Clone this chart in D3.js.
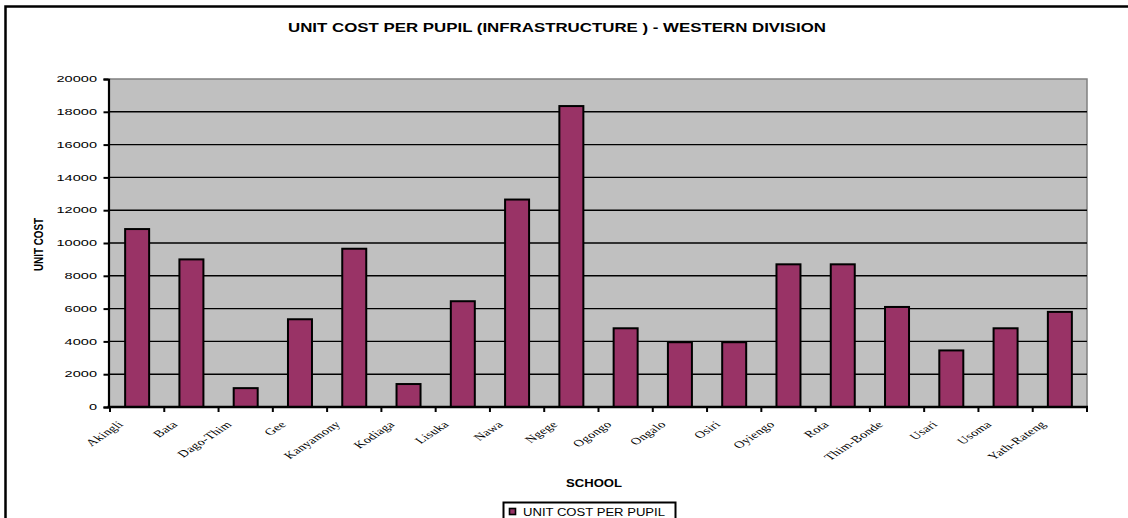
<!DOCTYPE html>
<html>
<head>
<meta charset="utf-8">
<script src="https://cdn.jsdelivr.net/npm/d3@7"></script>
<style>
  html, body { margin: 0; padding: 0; background: #fff; }
  svg { display: block; }
</style>
</head>
<body>
<svg id="chart" width="1128" height="518"></svg>
<script>
const schools = ["Akingli","Bata","Dago-Thim","Gee","Kanyamony","Kodiaga","Lisuka","Nawa","Ngege","Ogongo","Ongalo","Osiri","Oyiengo","Rota","Thim-Bonde","Usari","Usoma","Yath-Rateng"];
const unitCost = [10850, 9000, 1150, 5350, 9650, 1400, 6450, 12650, 18350, 4800, 3950, 3950, 8700, 8700, 6100, 3450, 4800, 5800];
const yTicks = [0, 2000, 4000, 6000, 8000, 10000, 12000, 14000, 16000, 18000, 20000];
const titleText = "UNIT COST PER PUPIL (INFRASTRUCTURE ) - WESTERN DIVISION";
const yTitle = "UNIT COST";
const xTitle = "SCHOOL";
const seriesName = "UNIT COST PER PUPIL";

const svg = d3.select("#chart");
const plot = { left: 110, right: 1087, top: 79, bottom: 407 };

const x = d3.scaleBand().domain(schools).range([plot.left, plot.right]).paddingInner(0).paddingOuter(0);
const y = d3.scaleLinear().domain([0, 20000]).range([plot.bottom, plot.top]);

// outer frame
svg.append("rect").attr("x", 5.5).attr("y", 6.5).attr("width", 1200).attr("height", 600)
  .attr("fill", "#fff").attr("stroke", "#000").attr("stroke-width", 2.5);

// plot area
svg.append("rect").attr("x", plot.left).attr("y", plot.top)
  .attr("width", plot.right - plot.left).attr("height", plot.bottom - plot.top)
  .attr("fill", "#C0C0C0");
svg.append("path")
  .attr("d", `M${plot.left},${plot.top}H${plot.right}V${plot.bottom}`)
  .attr("fill", "none").attr("stroke", "#808080").attr("stroke-width", 1.5);

// gridlines
svg.append("g").selectAll("line").data(yTicks.filter(d => d > 0 && d < 20000)).join("line")
  .attr("x1", plot.left).attr("x2", plot.right)
  .attr("y1", d => y(d)).attr("y2", d => y(d))
  .attr("stroke", "#000").attr("stroke-width", 1.4);

// bars
const bw = 24;
svg.append("g").selectAll("rect").data(schools).join("rect")
  .attr("x", (d) => x(d) + x.bandwidth() / 2 - bw / 2)
  .attr("y", (d, i) => y(unitCost[i]))
  .attr("width", bw)
  .attr("height", (d, i) => y(0) - y(unitCost[i]))
  .attr("fill", "#993366").attr("stroke", "#000").attr("stroke-width", 2);

// y axis
const yAxis = d3.axisLeft(y).tickValues(yTicks).tickSize(5).tickFormat("");
const gy = svg.append("g").attr("transform", `translate(${plot.left - 1.5},0)`).call(yAxis);
gy.select(".domain").attr("stroke", "#000").attr("stroke-width", 2.2);
gy.selectAll(".tick line").attr("stroke", "#000").attr("stroke-width", 2);

svg.append("g").selectAll("text").data(yTicks).join("text")
  .attr("transform", d => `translate(97,${y(d) + 3.2}) scale(1.62,1)`)
  .attr("text-anchor", "end")
  .attr("font-family", "Arial, 'Liberation Sans', sans-serif")
  .attr("font-size", 9)
  .attr("fill", "#000")
  .text(d => d);

// x axis
const boundaries = schools.map(d => x(d)).concat([plot.right]);
svg.append("line").attr("x1", plot.left - 2.5).attr("x2", plot.right + 1)
  .attr("y1", plot.bottom).attr("y2", plot.bottom)
  .attr("stroke", "#000").attr("stroke-width", 2.4);
svg.append("g").selectAll("line").data(boundaries).join("line")
  .attr("x1", d => d).attr("x2", d => d)
  .attr("y1", plot.bottom).attr("y2", plot.bottom + 5)
  .attr("stroke", "#000").attr("stroke-width", 2);

svg.append("g").selectAll("text").data(schools).join("text")
  .attr("transform", d => `translate(${x(d) + x.bandwidth() / 2 - 13},${425}) scale(1.5,1) rotate(-45)`)
  .attr("text-anchor", "end")
  .attr("font-family", "'Liberation Serif', 'Times New Roman', serif")
  .attr("font-size", 9.6)
  .attr("letter-spacing", 0.2)
  .attr("fill", "#000")
  .text(d => d);

// title
svg.append("text").attr("x", 557).attr("y", 32)
  .attr("text-anchor", "middle")
  .attr("font-family", "Arial, 'Liberation Sans', sans-serif")
  .attr("font-weight", "bold").attr("font-size", 13)
  .attr("textLength", 538).attr("lengthAdjust", "spacingAndGlyphs")
  .text(titleText);

// y title
svg.append("text").attr("transform", "translate(43,244.5) rotate(-90)")
  .attr("text-anchor", "middle")
  .attr("font-family", "Arial, 'Liberation Sans', sans-serif")
  .attr("font-weight", "bold").attr("font-size", 13)
  .attr("textLength", 53).attr("lengthAdjust", "spacingAndGlyphs")
  .text(yTitle);

// x title
svg.append("text").attr("x", 566).attr("y", 486.5)
  .attr("font-family", "Arial, 'Liberation Sans', sans-serif")
  .attr("font-weight", "bold").attr("font-size", 10)
  .attr("textLength", 56).attr("lengthAdjust", "spacingAndGlyphs")
  .text(xTitle);

// legend
const lg = svg.append("g");
lg.append("rect").attr("x", 503.5).attr("y", 502.5).attr("width", 172).attr("height", 40)
  .attr("fill", "#fff").attr("stroke", "#000").attr("stroke-width", 2);
lg.append("rect").attr("x", 509.5).attr("y", 508.5).attr("width", 6).attr("height", 6)
  .attr("fill", "#993366").attr("stroke", "#000").attr("stroke-width", 1.6);
lg.append("text").attr("x", 523).attr("y", 516)
  .attr("font-family", "Arial, 'Liberation Sans', sans-serif")
  .attr("font-size", 10)
  .attr("textLength", 142).attr("lengthAdjust", "spacingAndGlyphs")
  .text(seriesName);
</script>
</body>
</html>
